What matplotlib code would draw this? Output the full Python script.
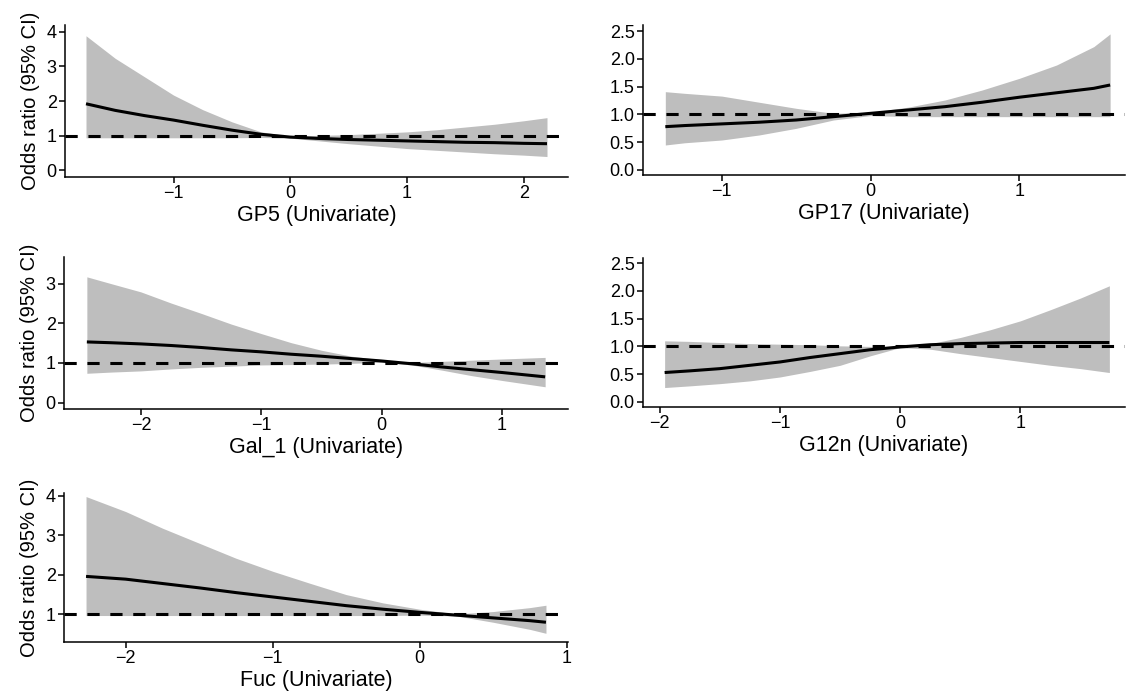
import matplotlib
matplotlib.use("Agg")
import matplotlib.pyplot as plt

plt.rcParams['font.family'] = ['Liberation Sans', 'DejaVu Sans']

# ---------------- data ----------------
gp5_x = [-1.75, -1.5, -1.25, -1.0, -0.75, -0.5, -0.25, 0, 0.25, 0.5, 0.75, 1.0, 1.25, 1.5, 1.75, 2.0, 2.2]
gp5_or = [1.92, 1.73, 1.58, 1.45, 1.30, 1.16, 1.04, 0.96, 0.92, 0.89, 0.87, 0.85, 0.83, 0.81, 0.80, 0.78, 0.77]
gp5_hi = [3.88, 3.23, 2.70, 2.17, 1.75, 1.40, 1.11, 0.99, 1.01, 1.03, 1.07, 1.11, 1.17, 1.25, 1.33, 1.43, 1.52]
gp5_lo = [0.94, 0.94, 0.94, 0.94, 0.94, 0.94, 0.95, 0.93, 0.85, 0.77, 0.70, 0.63, 0.58, 0.53, 0.48, 0.44, 0.40]

gp17_x = [-1.38, -1.25, -1.0, -0.75, -0.5, -0.25, 0, 0.25, 0.5, 0.75, 1.0, 1.25, 1.5, 1.61]
gp17_or = [0.78, 0.80, 0.83, 0.86, 0.90, 0.96, 1.02, 1.08, 1.14, 1.22, 1.31, 1.39, 1.47, 1.53]
gp17_hi = [1.41, 1.38, 1.33, 1.22, 1.11, 1.02, 1.04, 1.13, 1.26, 1.44, 1.65, 1.89, 2.22, 2.45]
gp17_lo = [0.45, 0.49, 0.54, 0.63, 0.75, 0.90, 0.98, 0.96, 0.96, 0.96, 0.96, 0.96, 0.96, 0.96]

gal1_x = [-2.45, -2.25, -2.0, -1.75, -1.5, -1.25, -1.0, -0.75, -0.5, -0.25, 0, 0.25, 0.5, 0.75, 1.0, 1.36]
gal1_or = [1.53, 1.51, 1.48, 1.44, 1.39, 1.33, 1.28, 1.22, 1.17, 1.11, 1.05, 0.98, 0.90, 0.83, 0.76, 0.65]
gal1_hi = [3.17, 3.00, 2.79, 2.51, 2.25, 1.98, 1.74, 1.51, 1.32, 1.17, 1.08, 1.01, 1.04, 1.07, 1.10, 1.14]
gal1_lo = [0.74, 0.77, 0.80, 0.85, 0.89, 0.92, 0.95, 0.96, 0.97, 0.99, 1.02, 0.95, 0.82, 0.68, 0.56, 0.40]

g12n_x = [-1.96, -1.75, -1.5, -1.25, -1.0, -0.75, -0.5, -0.25, 0, 0.25, 0.5, 0.75, 1.0, 1.25, 1.5, 1.74]
g12n_or = [0.53, 0.56, 0.60, 0.66, 0.72, 0.80, 0.87, 0.94, 0.99, 1.03, 1.05, 1.06, 1.07, 1.07, 1.07, 1.07]
g12n_hi = [1.10, 1.09, 1.07, 1.05, 1.04, 1.03, 1.01, 1.00, 1.00, 1.05, 1.16, 1.30, 1.46, 1.66, 1.87, 2.09]
g12n_lo = [0.26, 0.29, 0.33, 0.38, 0.45, 0.55, 0.66, 0.83, 0.98, 0.95, 0.87, 0.80, 0.73, 0.66, 0.60, 0.53]

fuc_x = [-2.27, -2.0, -1.75, -1.5, -1.25, -1.0, -0.75, -0.5, -0.25, 0, 0.25, 0.5, 0.75, 0.86]
fuc_or = [1.96, 1.89, 1.78, 1.67, 1.55, 1.44, 1.33, 1.22, 1.13, 1.05, 0.98, 0.91, 0.84, 0.80]
fuc_hi = [3.98, 3.60, 3.18, 2.80, 2.42, 2.09, 1.79, 1.50, 1.29, 1.13, 1.01, 1.07, 1.17, 1.23]
fuc_lo = [0.97, 0.97, 0.97, 0.97, 0.97, 0.97, 0.97, 0.97, 0.97, 0.98, 0.96, 0.80, 0.62, 0.52]

titles = ["GP5 (Univariate)", "GP17 (Univariate)", "Gal_1 (Univariate)",
          "G12n (Univariate)", "Fuc (Univariate)"]
ylabel = "Odds ratio (95% CI)"

gp5_xticks = [-1, 0, 1, 2]
gp17_xticks = [-1, 0, 1]
gal1_xticks = [-2, -1, 0, 1]
g12n_xticks = [-2, -1, 0, 1]
fuc_xticks = [-2, -1, 0, 1]
int_yticks4 = [0, 1, 2, 3, 4]
int_yticks3 = [0, 1, 2, 3]
dec_yticks = [0.0, 0.5, 1.0, 1.5, 2.0, 2.5]
fuc_yticks = [1, 2, 3, 4]

# ---------------- layout ----------------
W, H = 1127, 696
fig = plt.figure(figsize=(W / 100, H / 100), dpi=100)

def box(l, r, t, b):
    return [l / W, 1 - b / H, (r - l) / W, (b - t) / H]

panels = [
    (box(65, 568, 25, 177), gp5_x, gp5_or, gp5_lo, gp5_hi, (-1.93, 2.38), (-0.19, 4.19),
     gp5_xticks, int_yticks4, ["0", "1", "2", "3", "4"], True),
    (box(643, 1125, 25, 175), gp17_x, gp17_or, gp17_lo, gp17_hi, (-1.53, 1.71), (-0.09, 2.61),
     gp17_xticks, dec_yticks, ["0.0", "0.5", "1.0", "1.5", "2.0", "2.5"], False),
    (box(64, 568, 257, 409), gal1_x, gal1_or, gal1_lo, gal1_hi, (-2.64, 1.55), (-0.16, 3.67),
     gal1_xticks, int_yticks3, ["0", "1", "2", "3"], True),
    (box(643, 1125, 258, 407), g12n_x, g12n_or, g12n_lo, g12n_hi, (-2.14, 1.87), (-0.09, 2.59),
     g12n_xticks, dec_yticks, ["0.0", "0.5", "1.0", "1.5", "2.0", "2.5"], False),
    (box(64, 568, 493, 642), fuc_x, fuc_or, fuc_lo, fuc_hi, (-2.42, 1.01), (0.3, 4.07),
     fuc_xticks, fuc_yticks, ["1", "2", "3", "4"], True),
]

for i, (rect, x, y, lo, hi, xl, yl, xt, yt, ytl, show_ylab) in enumerate(panels):
    ax = fig.add_axes(rect)
    ax.fill_between(x, lo, hi, color="#BEBEBE", linewidth=0, zorder=1)
    ax.plot(x, y, color="black", linewidth=2.2, zorder=2, solid_capstyle="butt")
    ax.axhline(1, color="black", linewidth=2.2, linestyle=(0, (4, 3.5)), zorder=3)
    ax.set_xlim(*xl)
    ax.set_ylim(*yl)
    ax.set_xticks(xt)
    ax.set_xticklabels([("\u2212" + str(abs(v))) if v < 0 else str(v) for v in xt])
    ax.set_yticks(yt)
    ax.set_yticklabels(ytl)
    for s in ["top", "right"]:
        ax.spines[s].set_visible(False)
    for s in ["left", "bottom"]:
        ax.spines[s].set_linewidth(1.1)
    ax.tick_params(axis="both", length=4, width=1.1, labelsize=13, colors="black", pad=2)
    ax.set_xlabel(titles[i], fontsize=15.5, labelpad=2)
    if show_ylab:
        ax.set_ylabel(ylabel, fontsize=14.5, labelpad=5)
    ax.set_facecolor("white")

fig.savefig("out.png", dpi=100, facecolor="white")
